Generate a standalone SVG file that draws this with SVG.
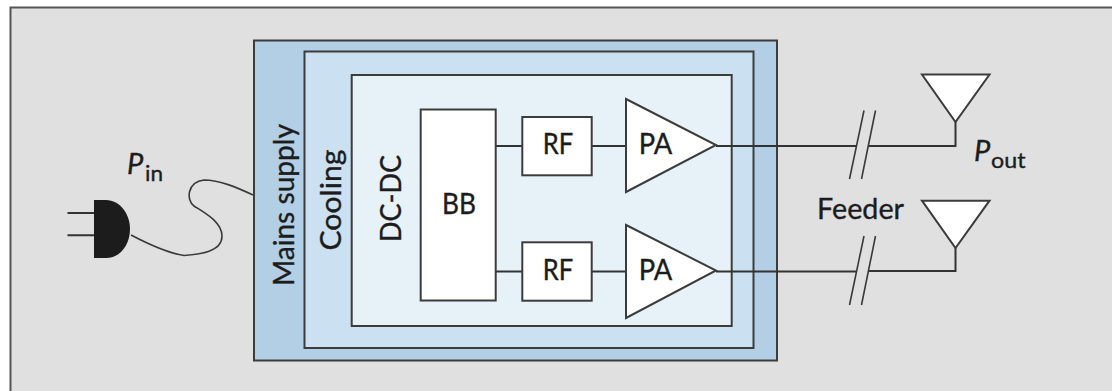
<svg xmlns="http://www.w3.org/2000/svg" width="1112" height="391" viewBox="0 0 1112 391">
<style>
.box{stroke:#3c3c3c;stroke-width:2}
.w{fill:#fff}
.ln{fill:none;stroke:#333;stroke-width:2}
.thin{fill:none;stroke:#3a3a3a;stroke-width:1.6}
text{font-family:Lato,"Noto Sans",sans-serif;fill:#1c1c1c;font-size:28px;stroke:#1c1c1c;stroke-width:.35}
.i{font-style:italic;font-size:29px}
.s{font-size:22px}
</style>
<rect x="0" y="0" width="1112" height="391" fill="#fff"/>
<path d="M1112 7.500H10.500V391H1112Z" fill="#e0e0e0" stroke="none"/>
<path d="M1112 7.500H10.500V391" fill="none" stroke="#555" stroke-width="2"/>
<g id="mains"><rect class="box" x="254" y="40.500" width="523" height="320" fill="#b2cfe5"/><text transform="translate(294 286) rotate(-90)" textLength="162" lengthAdjust="spacingAndGlyphs">Mains supply</text></g>
<g id="cooling"><rect class="box" x="304.500" y="51.500" width="449" height="296.500" fill="#cbe0f0"/><text transform="translate(340.700 250.500) rotate(-90)" textLength="101" lengthAdjust="spacingAndGlyphs">Cooling</text></g>
<g id="dcdc"><rect class="box" x="351.700" y="75" width="380" height="251" fill="#e6f1f8"/><text transform="translate(401 242) rotate(-90)" textLength="87" lengthAdjust="spacingAndGlyphs">DC-DC</text></g>
<g id="connectors">
<path class="ln" d="M496 146H522M592 146H626M716 146H857M868 146H955.500V122"/>
<path class="ln" d="M496 271.500H522M592 271.500H626M716 271.500H857M868 271H955.500V248"/>
<path class="thin" d="M864 110.500L849.500 179M875.500 110.500L861.500 179M864 236L849.500 305M875.500 236L861.500 305"/>
<path class="thin" d="M131 235C150 245 168 253 184 255.500C200 254 222 252 222 236C222 222 205 213 194 206C186 200 187 182 204 180C220 180 238 188 253 195"/>
</g>
<g id="bb"><rect class="box w" x="420.700" y="109.500" width="75" height="191"/><text x="442" y="214" textLength="34" lengthAdjust="spacingAndGlyphs">BB</text></g>
<g id="rf1"><rect class="box w" x="522.300" y="117" width="69.400" height="58.300"/><text x="542.700" y="153.500" textLength="30.500" lengthAdjust="spacingAndGlyphs">RF</text></g>
<g id="rf2"><rect class="box w" x="522.300" y="242.300" width="69.400" height="58.400"/><text x="542.700" y="279.500" textLength="30.500" lengthAdjust="spacingAndGlyphs">RF</text></g>
<g id="pa1"><path class="box w" d="M626 99V192L716 145Z"/><text x="638.700" y="153.500" textLength="33.500" lengthAdjust="spacingAndGlyphs">PA</text></g>
<g id="pa2"><path class="box w" d="M626 225V318L716 270.500Z"/><text x="638.700" y="279.500" textLength="33.500" lengthAdjust="spacingAndGlyphs">PA</text></g>
<g id="ant1"><path class="box w" d="M922 74.500H989.500L955.500 122Z"/></g>
<g id="ant2"><path class="box w" d="M922 200.700H989.500L955.500 248Z"/></g>
<g id="plug">
<path class="ln" d="M67.500 213H95M67.500 235.300H95"/>
<path fill="#1c1c1c" d="M94 200H106C120 200 130 214 130 229C130 245 120 258 106 258H94Z"/>
</g>
<text class="i" x="127" y="174">P</text><text class="s" x="145" y="181" textLength="18" lengthAdjust="spacingAndGlyphs">in</text>
<text class="i" x="974" y="161">P</text><text class="s" x="991" y="168.300" textLength="34.500" lengthAdjust="spacingAndGlyphs">out</text>
<text x="817" y="219" textLength="87" lengthAdjust="spacingAndGlyphs">Feeder</text>
</svg>
